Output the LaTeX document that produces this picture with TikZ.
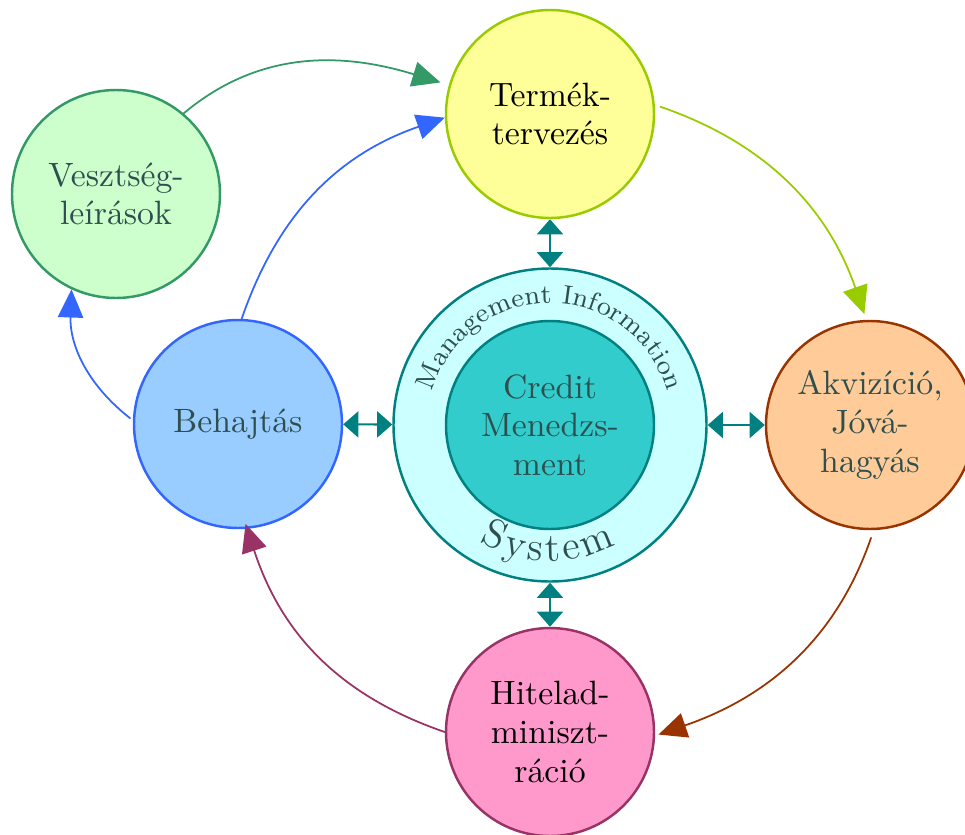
\documentclass[tikz,border=0pt]{standalone}
\usetikzlibrary{arrows.meta,decorations.text}

\definecolor{termfill}{HTML}{FFFF99}
\definecolor{termline}{HTML}{99CC00}
\definecolor{vesztfill}{HTML}{CCFFCC}
\definecolor{vesztline}{HTML}{339966}
\definecolor{behajfill}{HTML}{99CCFF}
\definecolor{behajline}{HTML}{3366FF}
\definecolor{misfill}{HTML}{CCFFFF}
\definecolor{misline}{HTML}{008080}
\definecolor{credfill}{HTML}{33CCCC}
\definecolor{akvfill}{HTML}{FFCC99}
\definecolor{akvline}{HTML}{993300}
\definecolor{hitelfill}{HTML}{FF99CC}
\definecolor{hitelline}{HTML}{993366}
\definecolor{slate}{HTML}{2F4F4F}

\begin{document}
\begin{tikzpicture}[line join = round, line cap = round,
    phase/.style={circle, minimum size=2.08cm, inner sep=0pt, line width=0.7pt,
        align=center, font=\fontsize{9.6}{11}\selectfont, text=slate},
    flow/.style={-{Triangle[length=8pt,width=7.2pt]}, line width=0.5pt},
    link/.style={{Triangle[length=4.3pt,width=7.4pt]}-{Triangle[length=4.3pt,width=7.4pt]},
        line width=0.6pt, draw=misline}]
\useasboundingbox (-5.50,-4.09) rectangle (4.15,4.25);

% the system in the middle
\node [circle, minimum size=3.13cm, inner sep=0pt, line width=0.7pt,
       fill=misfill, draw=misline] (mis) at (0,0) {};
\node [phase, fill=credfill, draw=misline] (cred) at (0,0) {Credit\\Menedzs-\\ment};
\path[decorate, decoration={text along path, text align=center,
      text={|\fontsize{7.6}{8}\selectfont\color{slate}|Management Information}}]
    (172:1.22) arc[start angle=172, end angle=8, radius=1.22];
\path[decorate, decoration={text along path, text align=fit to path,
      text={|\fontsize{11.5}{12}\selectfont\color{slate}|System}}]
    (239:1.36) arc[start angle=239, end angle=299, radius=1.36];

% the phases of the cycle
\node [phase, fill=termfill, draw=termline, text=black] (term) at (0,3.11) {Termék-\\tervezés};
\node [phase, fill=vesztfill, draw=vesztline] (veszt) at (-4.34,2.31) {Vesztség-\\leírások};
\node [phase, fill=behajfill, draw=behajline] (behaj) at (-3.12,0.01) {Behajtás};
\node [phase, fill=akvfill, draw=akvline] (akv) at (3.20,0) {Akvizíció,\\Jóvá-\\hagyás};
\node [phase, fill=hitelfill, draw=hitelline, text=black] (hitel) at (0,-3.07) {Hitelad-\\miniszt-\\ráció};

\foreach \n in {term,behaj,akv,hitel}
    \draw[link] (\n)--(mis);

\draw[flow, vesztline, shorten >=2.5pt] (veszt.50) to[out=40, in=163] (term.164);
\draw[flow, behajline] (behaj.88) to[out=71, in=199] (term.182);
\draw[flow, termline, shorten <=1.7pt, shorten >=1.7pt] (term.5) to[out=-19, in=109] (akv.92);
\draw[flow, akvline, shorten <=2.3pt, shorten >=1pt] (akv.-88) to[out=-109, in=19] (hitel.-2);
\draw[flow, hitelline, shorten >=-1.5pt] (hitel.180) to[out=161, in=-72] (behaj.-85);
\draw[flow, behajline, shorten <=1pt] (behaj.178) to[out=142, in=268] (veszt.-115);
\end{tikzpicture}
\end{document}
